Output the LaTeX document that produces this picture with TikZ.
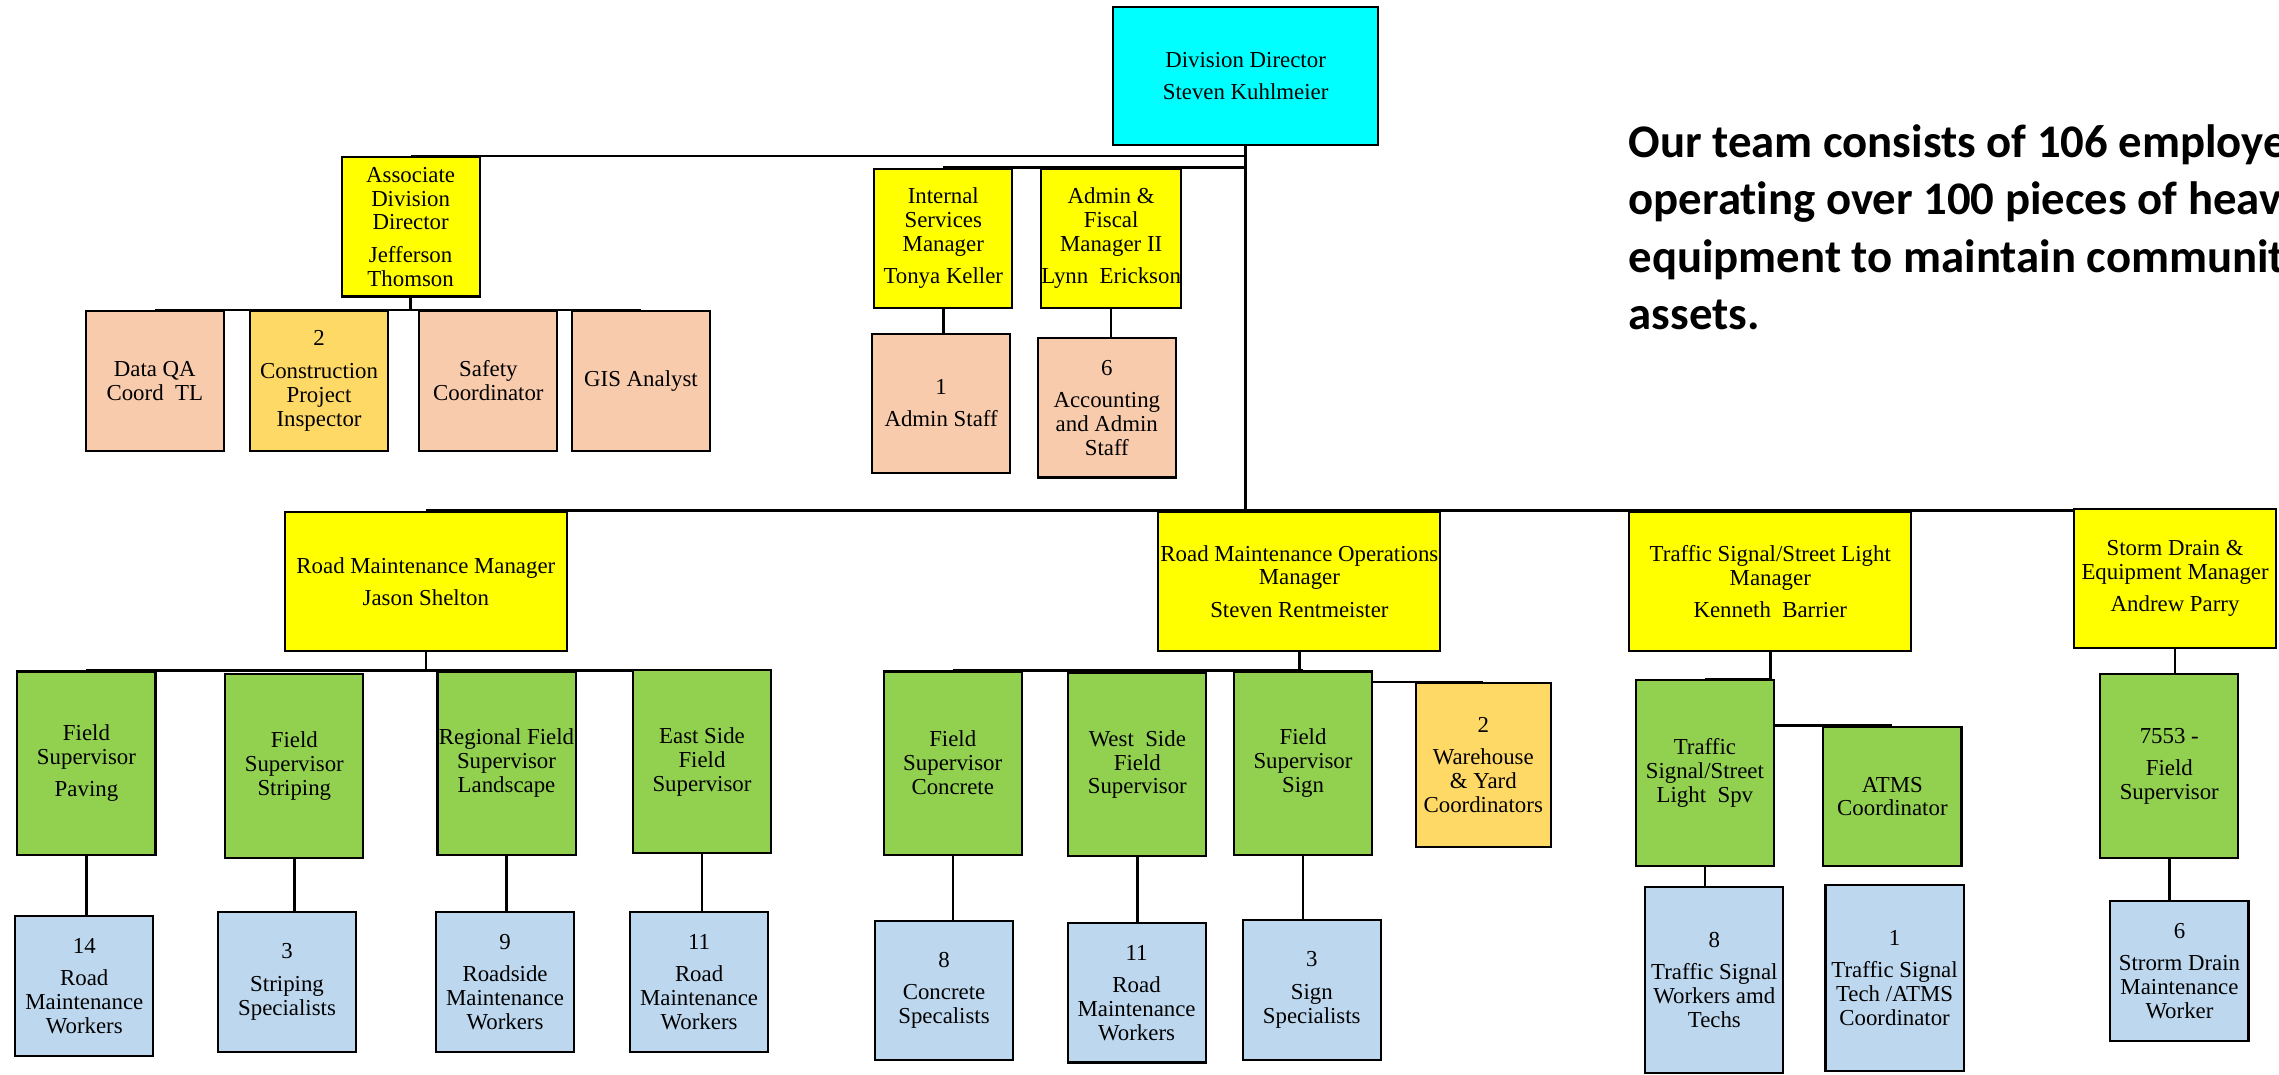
\documentclass[tikz,border=0pt]{standalone}
\usepackage{fontspec}
\setmainfont{Liberation Serif}
\newfontfamily\notefont[Ligatures=NoCommon]{Carlito}
\usepackage{tikz}
\usetikzlibrary{backgrounds}

\begin{document}
\begin{tikzpicture}[x=0.14534mm, y=-0.14534mm]

% ------------------------
% Colors
% ------------------------
\definecolor{colDir}{RGB}{0,255,255}
\definecolor{colMgr}{RGB}{255,255,0}
\definecolor{colStaff}{RGB}{248,203,173}
\definecolor{colInsp}{RGB}{255,217,102}
\definecolor{colSup}{RGB}{146,208,80}
\definecolor{colCrew}{RGB}{189,215,238}

% one unit of the grid (1568 x 739 units)
\def\u{0.14534mm}
\def\gp{2.4pt} % extra gap before a name or after a count

\tikzset{
  orgbox/.style={draw, line width=0.6pt, align=center, inner sep=0pt,
    font=\fontsize{6.5}{6.8}\selectfont},
  dirbox/.style={orgbox, fill=colDir, minimum width=182*\u, minimum height=95*\u},
  mgrbox/.style={orgbox, fill=colMgr, minimum width=95*\u, minimum height=96*\u},
  widebox/.style={orgbox, fill=colMgr, minimum width=194*\u, minimum height=96*\u},
  staffbox/.style={orgbox, fill=colStaff, minimum width=95*\u, minimum height=96*\u},
  inspbox/.style={orgbox, fill=colInsp, minimum width=95*\u, minimum height=96*\u},
  supbox/.style={orgbox, fill=colSup, minimum width=95*\u, minimum height=126*\u},
  crewbox/.style={orgbox, fill=colCrew, minimum width=95*\u, minimum height=96*\u},
  link/.style={line width=0.7pt}
}

\useasboundingbox (0,0) rectangle (1568,739);
\clip (0,0) rectangle (1568,739);

% ------------------------
% TOP: director, associate, services
% ------------------------
\node[dirbox] (dir) at (857,52.5) {Division Director\\[\gp] Steven Kuhlmeier};

\node[mgrbox] (adir) at (282.5,156) {Associate\\ Division\\ Director\\[\gp] Jefferson\\ Thomson};
\node[mgrbox] (ism) at (649,164) {Internal\\ Services\\ Manager\\[\gp] Tonya Keller};
\node[mgrbox] (afm) at (764.5,164) {Admin \&\\ Fiscal\\ Manager II\\[\gp] Lynn~ Erickson};

\node[staffbox] (dqa) at (106.5,262) {Data QA\\ Coord~ TL};
\node[inspbox] (cpi) at (219.5,262) {2\\[\gp] Construction\\ Project\\ Inspector};
\node[staffbox] (saf) at (336,262) {Safety\\ Coordinator};
\node[staffbox] (gis) at (441,262) {GIS Analyst};

\node[staffbox] (adm) at (647.5,277.5) {1\\[\gp] Admin Staff};
\node[staffbox] (acc) at (761.5,280.5) {6\\[\gp] Accounting\\ and Admin\\ Staff};

% note, placed by the baseline of its last line
\node[anchor=base west, align=left, font=\notefont\bfseries\fontsize{13.3}{16.4}\selectfont]
  (note) at (1112,227) {Our team consists of 106 employees\\ operating over 100 pieces of heavy\\ equipment to maintain community\\ assets.};

% ------------------------
% MIDDLE: managers
% ------------------------
\node[widebox] (rmm) at (293,400) {Road Maintenance Manager\\[\gp] Jason Shelton};
\node[widebox] (ops) at (894,400) {Road Maintenance Operations\\ Manager\\[\gp] Steven Rentmeister};
\node[widebox] (tsm) at (1218,400) {Traffic Signal/Street Light\\ Manager\\[\gp] Kenneth~ Barrier};
\node[mgrbox, minimum width=139*\u] (sdm) at (1496.5,398) {Storm Drain \&\\ Equipment Manager\\[\gp] Andrew Parry};

% ------------------------
% BOTTOM: supervisors
% ------------------------
\node[supbox] (pav) at (59.5,525) {Field\\ Supervisor\\[\gp] Paving};
\node[supbox] (stp) at (202.5,527) {Field\\ Supervisor\\ Striping};
\node[supbox] (reg) at (348.5,525) {Regional Field\\ Supervisor\\ Landscape};
\node[supbox] (east) at (483,524) {East Side\\ Field\\ Supervisor};

\node[supbox] (conc) at (655.5,525) {Field\\ Supervisor\\ Concrete};
\node[supbox] (west) at (782.5,526) {West~ Side\\ Field\\ Supervisor};
\node[supbox] (sign) at (896.5,525) {Field\\ Supervisor\\ Sign};
\node[inspbox, minimum width=93*\u, minimum height=113*\u] (wh) at (1020.5,526.5) {2\\[\gp] Warehouse\\ \& Yard\\ Coordinators};

\node[supbox, minimum height=128*\u] (spv) at (1173,532) {Traffic\\ Signal/Street\\ Light~ Spv};
\node[supbox, minimum height=96*\u] (atms) at (1302,548) {ATMS\\ Coordinator};
\node[supbox] (fld) at (1492.5,527) {7553 -\\[\gp] Field\\ Supervisor};

% crews
\node[crewbox] (c1) at (58,678.5) {14\\[\gp] Road\\ Maintenance\\ Workers};
\node[crewbox] (c2) at (197.5,675.5) {3\\[\gp] Striping\\ Specialists};
\node[crewbox] (c3) at (347.5,675.5) {9\\[\gp] Roadside\\ Maintenance\\ Workers};
\node[crewbox] (c4) at (481,675.5) {11\\[\gp] Road\\ Maintenance\\ Workers};
\node[crewbox] (c5) at (649.5,681.5) {8\\[\gp] Concrete\\ Specalists};
\node[crewbox] (c6) at (782,683) {11\\[\gp] Road\\ Maintenance\\ Workers};
\node[crewbox] (c7) at (902.5,681) {3\\[\gp] Sign\\ Specialists};
\node[crewbox, minimum height=128*\u] (c8) at (1179.5,674) {8\\[\gp] Traffic Signal\\ Workers amd\\ Techs};
\node[crewbox, minimum height=128*\u] (c9) at (1303.5,673) {1\\[\gp] Traffic Signal\\ Tech /ATMS\\ Coordinator};
\node[crewbox] (c10) at (1499.5,668) {6\\[\gp] Strorm Drain\\ Maintenance\\ Worker};

% ------------------------
% Connectors (behind the boxes)
% ------------------------
\begin{scope}[on background layer]
\draw[link] (dir.south) -- (dir.south |- rmm.north);
\draw[link] (adir.north) -- (adir.north -| dir.south);
\draw[link] (ism.north) -- (ism.north -| dir.south);

\draw[link] (adir.south) -- (adir.south |- dqa.north);
\draw[link] (dqa.north) -- (gis.north);
\draw[link] (ism.south) -- (ism.south |- adm.north);
\draw[link] (afm.south) -- (afm.south |- acc.north);

\draw[link] (rmm.north) -- (rmm.north -| sdm.south);

\draw[link] (rmm.south) -- (rmm.south |- pav.north);
\draw[link] (pav.north) -- (pav.north -| east.north);
\draw[link] (ops.south) -- (ops.south |- conc.north);
\draw[link] (conc.north) -- (conc.north -| sign.north);
\draw[link] (ops.south |- wh.north) -- (wh.north);
\draw[link] (tsm.south) -- (tsm.south |- atms.north) -- (atms.north);
\draw[link] (spv.north) -- (spv.north -| tsm.south);
\draw[link] (sdm.south) -- (sdm.south |- fld.north);

\foreach \g/\c in {pav/c1, stp/c2, reg/c3, east/c4, conc/c5, west/c6, sign/c7, spv/c8, fld/c10} {
  \draw[link] (\g.south) -- (\g.south |- \c.north);
}
\end{scope}

\end{tikzpicture}
\end{document}
